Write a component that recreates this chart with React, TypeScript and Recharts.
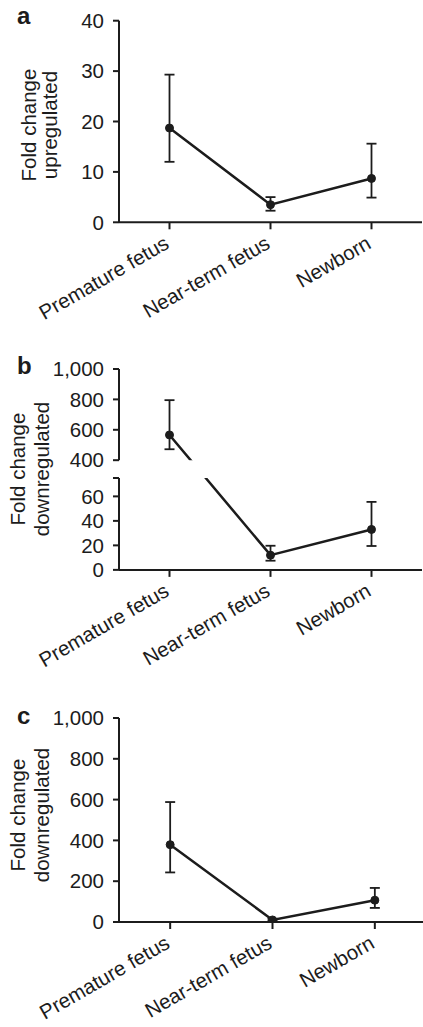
import { ErrorBar, Line, LineChart, XAxis, YAxis } from "recharts";

const FONT = '"Liberation Sans", Arial, Helvetica, sans-serif';
const INK = "#1c1c1c";

const categories = ["Premature fetus", "Near-term fetus", "Newborn"];

// a: upregulated
const upMean = [18.7, 3.5, 8.7];
const upLow = [12, 2.3, 4.9];
const upHigh = [29.3, 5, 15.6];
const upTicks = [0, 10, 20, 30, 40];

// b: downregulated (broken axis)
const downBMean = [566, 12, 33];
const downBLow = [472, 7.5, 19.5];
const downBHigh = [795, 19.7, 55.5];
const bLowTicks = [0, 20, 40, 60, 75];
const bHighTicks = [400, 600, 800, 1000];

// c: downregulated
const downCMean = [379, 10, 107];
const downCLow = [243, 5, 69];
const downCHigh = [588, 16, 167];
const cTicks = [0, 200, 400, 600, 800, 1000];

// broken axis scale for panel b: lower part 0-75, upper part 400-1000
const B_LOW_MAX = 75;
const B_HIGH_MIN = 400;
const B_HIGH_MAX = 1000;
const B_PX = 1.225; // px per unit, lower part
const B_HIGH_PX = 0.152; // px per unit, upper part
const B_GAP = 18; // px between the two parts

const brk = (v: number) =>
  v <= B_LOW_MAX ? v : B_LOW_MAX + B_GAP / B_PX + (v - B_HIGH_MIN) * (B_HIGH_PX / B_PX);

type Row = { name: string; value: number; err: [number, number] };

function buildRows(mean: number[], low: number[], high: number[], f = (v: number) => v): Row[] {
  return categories.map((name, i) => ({
    name,
    value: f(mean[i]),
    err: [f(mean[i]) - f(low[i]), f(high[i]) - f(mean[i])],
  }));
}

const rowsA = buildRows(upMean, upLow, upHigh);
const rowsB = buildRows(downBMean, downBLow, downBHigh, brk);
const rowsC = buildRows(downCMean, downCLow, downCHigh);

const axisStyle = { stroke: INK, strokeWidth: 2 };
const yTick = { fontSize: 20.5, fill: INK, fontFamily: FONT };
const fmt = (v: number) => v.toLocaleString("en-US");

const CategoryTick = (props: any) => {
  const { x, y, payload } = props;
  const ax = x + 1;
  const ay = y + 16;
  return (
    <text
      x={ax}
      y={ay}
      transform={`rotate(-30 ${ax} ${ay})`}
      textAnchor="end"
      fontSize={20.5}
      fontFamily={FONT}
      fill={INK}
    >
      {payload.value}
    </text>
  );
};

function series() {
  return (
    <Line
      dataKey="value"
      stroke={INK}
      strokeWidth={2.5}
      dot={{ r: 4, fill: INK, stroke: INK, strokeWidth: 1 }}
      activeDot={false}
      isAnimationActive={false}
    >
      <ErrorBar dataKey="err" direction="y" width={5} stroke={INK} strokeWidth={1.8} isAnimationActive={false} />
    </Line>
  );
}

// plot width / 6 puts the three categories at band centres
function xAxis(plotW: number, hide = false) {
  const pad = plotW / 6;
  return (
    <XAxis
      dataKey="name"
      hide={hide}
      interval={0}
      height={100}
      tickSize={7}
      padding={{ left: pad, right: pad }}
      tick={<CategoryTick />}
      axisLine={axisStyle}
      tickLine={axisStyle}
    />
  );
}

function AxisTitle({ lines, x, y }: { lines: [string, string]; x: [number, number]; y: number }) {
  return (
    <svg width={80} height={200} style={{ position: "absolute", left: 0, top: y - 100 }}>
      {lines.map((t, i) => (
        <text
          key={t}
          x={x[i]}
          y={100}
          transform={`rotate(-90 ${x[i]} 100)`}
          textAnchor="middle"
          fontSize={20.5}
          fontFamily={FONT}
          fill={INK}
        >
          {t}
        </text>
      ))}
    </svg>
  );
}

const PanelLetter = ({ ch, top }: { ch: string; top: number }) => (
  <div
    style={{
      position: "absolute",
      left: 17,
      top,
      fontFamily: FONT,
      fontWeight: 700,
      fontSize: 24,
      lineHeight: "24px",
      color: INK,
    }}
  >
    {ch}
  </div>
);

const bUpperH = (brk(B_HIGH_MAX) - brk(B_HIGH_MIN)) * B_PX;
const bLowerH = B_LOW_MAX * B_PX;
const bUpperTop = 369;
const bLowerTop = bUpperTop + bUpperH + B_GAP;

export default function App() {
  return (
    <div
      style={{
        position: "absolute",
        left: 0,
        top: 0,
        width: 423,
        height: 1027,
        background: "#fff",
        overflow: "hidden",
      }}
    >
      {/* a */}
      <PanelLetter ch="a" top={4} />
      <AxisTitle lines={["Fold change", "upregulated"]} x={[36, 57]} y={125} />
      <div style={{ position: "absolute", left: 0, top: 0 }}>
        <LineChart width={423} height={322.3} data={rowsA} margin={{ top: 20.7, right: 1, bottom: 0, left: 0 }}>
          {xAxis(303)}
          <YAxis
            type="number"
            domain={[0, 40]}
            ticks={upTicks}
            interval={0}
            width={119}
            tickSize={6}
            tickMargin={9}
            axisLine={axisStyle}
            tickLine={axisStyle}
            tick={yTick}
            allowDataOverflow
          />
          {series()}
        </LineChart>
      </div>

      {/* b */}
      <PanelLetter ch="b" top={354} />
      <AxisTitle lines={["Fold change", "downregulated"]} x={[25, 49]} y={469} />
      <div style={{ position: "absolute", left: 0, top: bUpperTop - 16 }}>
        <LineChart width={423} height={bUpperH + 26} data={rowsB} margin={{ top: 16, right: 1, bottom: 10, left: 0 }}>
          {xAxis(303, true)}
          <YAxis
            type="number"
            domain={[brk(B_HIGH_MIN), brk(B_HIGH_MAX)]}
            ticks={bHighTicks.map(brk)}
            interval={0}
            width={119}
            tickSize={6}
            tickMargin={9}
            axisLine={axisStyle}
            tickLine={axisStyle}
            tick={yTick}
            tickFormatter={(v: number) => {
              const hit = bHighTicks.find((t) => Math.abs(brk(t) - v) < 0.01);
              return hit === undefined ? "" : fmt(hit);
            }}
            allowDataOverflow
          />
          {series()}
        </LineChart>
      </div>
      <div style={{ position: "absolute", left: 0, top: bLowerTop - 10 }}>
        <LineChart width={423} height={bLowerH + 110} data={rowsB} margin={{ top: 10, right: 1, bottom: 0, left: 0 }}>
          {xAxis(303)}
          <YAxis
            type="number"
            domain={[0, B_LOW_MAX]}
            ticks={bLowTicks}
            interval={0}
            width={119}
            tickSize={6}
            tickMargin={9}
            axisLine={axisStyle}
            tickLine={axisStyle}
            tick={yTick}
            tickFormatter={(v: number) => (v === B_LOW_MAX ? "" : String(v))}
            allowDataOverflow
          />
          {series()}
        </LineChart>
      </div>

      {/* c */}
      <PanelLetter ch="c" top={704} />
      <AxisTitle lines={["Fold change", "downregulated"]} x={[25, 49]} y={815} />
      <div style={{ position: "absolute", left: 0, top: 698.3 }}>
        <LineChart width={427} height={324} data={rowsC} margin={{ top: 20, right: 1, bottom: 0, left: 0 }}>
          {xAxis(307)}
          <YAxis
            type="number"
            domain={[0, 1000]}
            ticks={cTicks}
            interval={0}
            width={119}
            tickSize={6}
            tickMargin={9}
            axisLine={axisStyle}
            tickLine={axisStyle}
            tick={yTick}
            tickFormatter={fmt}
            allowDataOverflow
          />
          {series()}
        </LineChart>
      </div>
    </div>
  );
}
